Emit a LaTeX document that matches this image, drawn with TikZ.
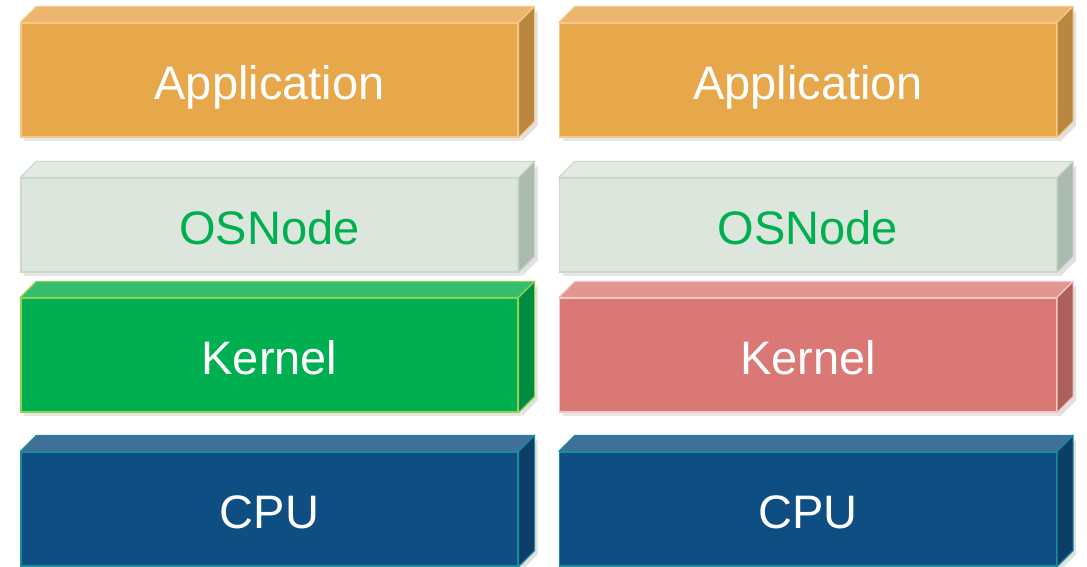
\documentclass[tikz,border=0pt]{standalone}
\usepackage{fontspec}
\setmainfont{Liberation Sans}
\usetikzlibrary{shadows}

\definecolor{appfront}{HTML}{E7A74B}
\definecolor{apptop}{HTML}{ECB570}
\definecolor{appside}{HTML}{BA873F}
\definecolor{appline}{HTML}{F5C98A}
\definecolor{osfront}{HTML}{DCE6DC}
\definecolor{ostop}{HTML}{E3EBE3}
\definecolor{osside}{HTML}{AABAAC}
\definecolor{osline}{HTML}{C9DAC9}
\definecolor{ostext}{HTML}{00B050}
\definecolor{kgfront}{HTML}{00AF50}
\definecolor{kgtop}{HTML}{33BE6E}
\definecolor{kgside}{HTML}{008C40}
\definecolor{kgline}{HTML}{92D050}
\definecolor{krfront}{HTML}{D97874}
\definecolor{krtop}{HTML}{E29591}
\definecolor{krside}{HTML}{AD605C}
\definecolor{krline}{HTML}{F4C7C5}
\definecolor{cpufront}{HTML}{0F4E82}
\definecolor{cputop}{HTML}{3F709A}
\definecolor{cpuside}{HTML}{0C3E67}
\definecolor{cpuline}{HTML}{1B8A9A}

% top and right faces of a layer: node, top colour, side colour, line colour
\newcommand\slab[4]{%
  \fill[black, opacity=.12] ([shift={(3,4)}]#1.north east) -- ++(16,-16)
    -- ([shift={(19,-12)}]#1.south east) -- ([shift={(3,4)}]#1.south east) -- cycle;
  \filldraw[fill=#2, draw=#4, line width=1.2pt, line join=round]
    (#1.north west) -- ++(16,-16) -- ([shift={(16,-16)}]#1.north east) -- (#1.north east) -- cycle;
  \filldraw[fill=#3, draw=#4, line width=1.2pt, line join=round]
    (#1.north east) -- ++(16,-16) -- ([shift={(16,-16)}]#1.south east) -- (#1.south east) -- cycle;
}

\begin{document}
\begin{tikzpicture}[
  x=1pt, y=-1pt,
  every node/.style={rectangle, inner sep=0pt, line width=1.2pt, text=white,
    font=\fontsize{47}{50}\selectfont, text height=39pt, text depth=0pt,
    drop shadow={opacity=.2, shadow xshift=3pt, shadow yshift=-4pt}},
  layer/.style={minimum width=497pt, minimum height=114pt},
  thin layer/.style={minimum width=497pt, minimum height=94pt},
  ]
  \useasboundingbox (0,0) rectangle (1087,566);

  % left stack
  \node[layer, fill=appfront, draw=appline] (appL) at (269.5,80) {Application};
  \node[thin layer, fill=osfront, draw=osline, text=ostext] (osL) at (269.5,225) {OSNode};
  \node[layer, fill=kgfront, draw=kgline] (kerL) at (269.5,355) {Kernel};
  \node[layer, fill=cpufront, draw=cpuline] (cpuL) at (269.5,509) {CPU};

  % right stack
  \node[layer, fill=appfront, draw=appline] (appR) at (808,80) {Application};
  \node[thin layer, fill=osfront, draw=osline, text=ostext] (osR) at (808,225) {OSNode};
  \node[layer, fill=krfront, draw=krline] (kerR) at (808,355) {Kernel};
  \node[layer, fill=cpufront, draw=cpuline] (cpuR) at (808,509) {CPU};

  \slab{appL}{apptop}{appside}{appline}
  \slab{osL}{ostop}{osside}{osline}
  \slab{kerL}{kgtop}{kgside}{kgline}
  \slab{cpuL}{cputop}{cpuside}{cpuline}
  \slab{appR}{apptop}{appside}{appline}
  \slab{osR}{ostop}{osside}{osline}
  \slab{kerR}{krtop}{krside}{krline}
  \slab{cpuR}{cputop}{cpuside}{cpuline}
\end{tikzpicture}
\end{document}
